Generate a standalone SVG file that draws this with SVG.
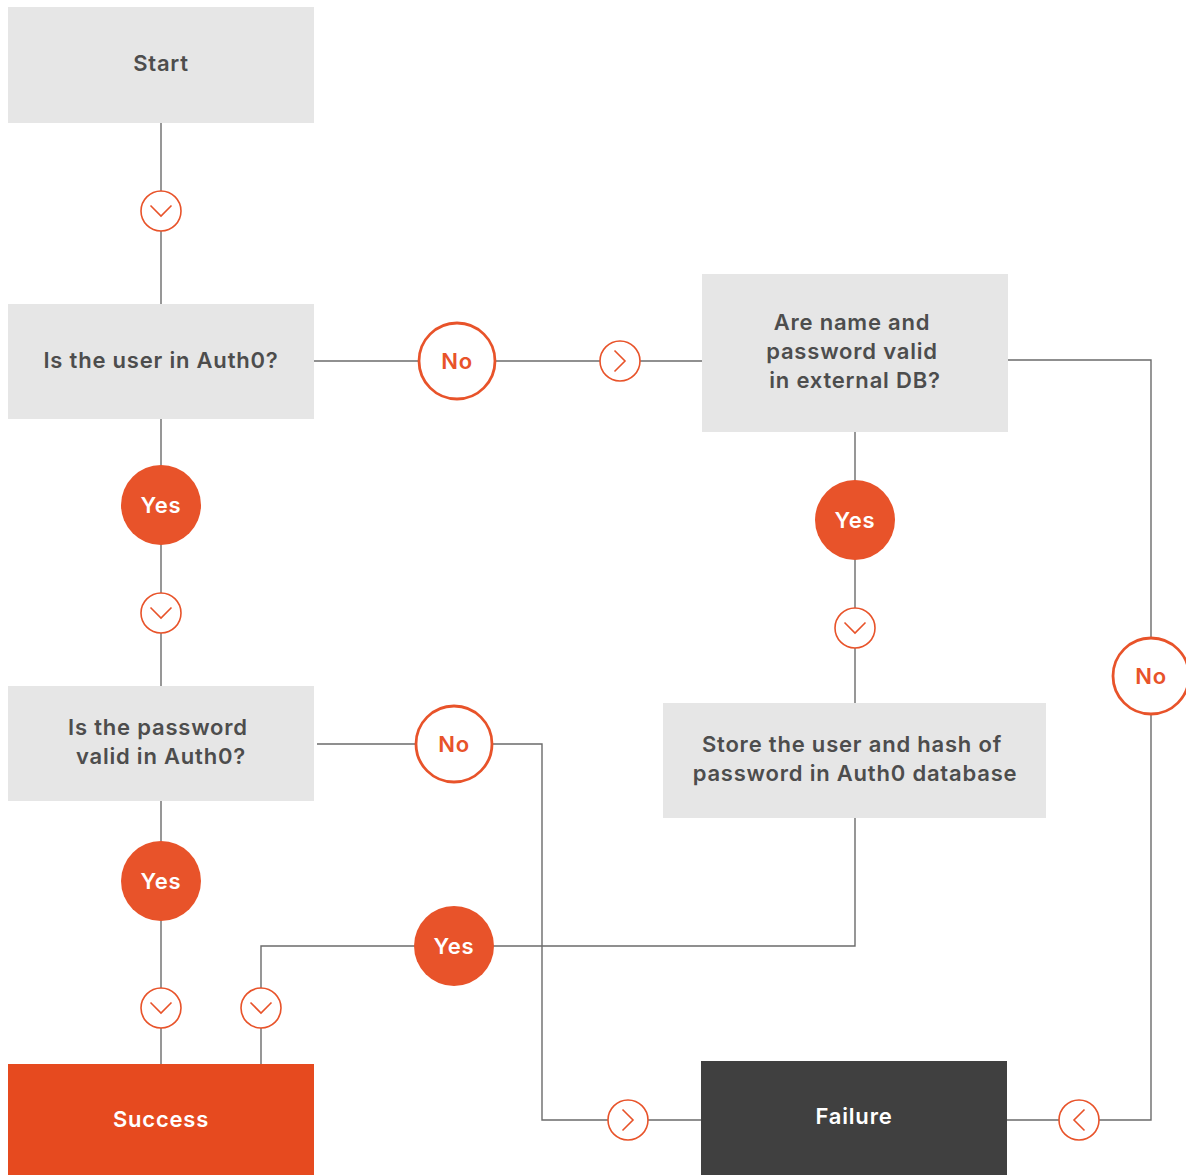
<svg xmlns="http://www.w3.org/2000/svg" xmlns:xlink="http://www.w3.org/1999/xlink" width="1186" height="1175" viewBox="0 0 1186 1175">
<style>
.box{fill:#e6e6e6}
.t,.tw,.to{font-family:Inter,"Noto Sans","Liberation Sans",sans-serif;font-weight:600;font-size:22px;letter-spacing:0.8px;text-anchor:middle}
.t{fill:#4d4d4d}
.tw{fill:#ffffff}
.to{fill:#e8532a}
.ln{fill:none;stroke:#6b6b6b;stroke-width:1.4}
.no{fill:#ffffff;stroke:#e8532a;stroke-width:2.8}
.yes{fill:#e8532a}
.cc{fill:#ffffff;stroke:#e8532a;stroke-width:1.6}
.cv{fill:none;stroke:#e8532a;stroke-width:1.6}
</style>
<defs>
<g id="chev"><circle class="cc" r="20"/><polyline class="cv" points="-10.5,-5.5 0,5 10.5,-5.5"/></g>
</defs>
<rect width="1186" height="1175" fill="#ffffff"/>
<g id="connectors">
<line class="ln" x1="161" y1="123" x2="161" y2="304"/>
<line class="ln" x1="314" y1="361" x2="702" y2="361"/>
<polyline class="ln" points="1008,360 1151,360 1151,1120 1007,1120"/>
<line class="ln" x1="855" y1="432" x2="855" y2="703"/>
<polyline class="ln" points="855,818 855,946 261,946 261,1064"/>
<line class="ln" x1="161" y1="419" x2="161" y2="686"/>
<polyline class="ln" points="317,744 542,744 542,1120 701,1120"/>
<line class="ln" x1="161" y1="801" x2="161" y2="1064"/>
<use xlink:href="#chev" transform="translate(161,211)"/>
<use xlink:href="#chev" transform="translate(620,361) rotate(-90)"/>
<use xlink:href="#chev" transform="translate(161,613)"/>
<use xlink:href="#chev" transform="translate(855,628)"/>
<use xlink:href="#chev" transform="translate(161,1008)"/>
<use xlink:href="#chev" transform="translate(261,1008)"/>
<use xlink:href="#chev" transform="translate(628,1120) rotate(-90)"/>
<use xlink:href="#chev" transform="translate(1079,1120) rotate(90)"/>
<g id="no1"><circle class="no" cx="457" cy="361" r="38"/><text class="to" x="457" y="369">No</text></g>
<g id="no2"><circle class="no" cx="1151" cy="676" r="38"/><text class="to" x="1151" y="684">No</text></g>
<g id="no3"><circle class="no" cx="454" cy="744" r="38"/><text class="to" x="454" y="752">No</text></g>
<g id="yes1"><circle class="yes" cx="161" cy="505" r="40"/><text class="tw" x="161" y="513">Yes</text></g>
<g id="yes2"><circle class="yes" cx="855" cy="520" r="40"/><text class="tw" x="855" y="528">Yes</text></g>
<g id="yes3"><circle class="yes" cx="161" cy="881" r="40"/><text class="tw" x="161" y="889">Yes</text></g>
<g id="yes4"><circle class="yes" cx="454" cy="946" r="40"/><text class="tw" x="454" y="954">Yes</text></g>
</g>
<g id="start"><rect class="box" x="8" y="7" width="306" height="116"/><text class="t" x="161" y="71">Start</text></g>
<g id="inauth0"><rect class="box" x="8" y="304" width="306" height="115"/><text class="t" x="161" y="368">Is the user in Auth0?</text></g>
<g id="extdb"><rect class="box" x="702" y="274" width="306" height="158"/><text class="t" x="852" y="330">Are name and</text><text class="t" x="852" y="359">password valid</text><text class="t" x="855" y="388">in external DB?</text></g>
<g id="pwvalid"><rect class="box" x="8" y="686" width="306" height="115"/><text class="t" x="158" y="735">Is the password</text><text class="t" x="161" y="764">valid in Auth0?</text></g>
<g id="store"><rect class="box" x="663" y="703" width="383" height="115"/><text class="t" x="852" y="752">Store the user and hash of</text><text class="t" x="855" y="781">password in Auth0 database</text></g>
<g id="success"><rect x="8" y="1064" width="306" height="111" fill="#e64a1f"/><text class="tw" x="161" y="1127">Success</text></g>
<g id="failure"><rect x="701" y="1061" width="306" height="114" fill="#404040"/><text class="tw" x="854" y="1124">Failure</text></g>
</svg>
